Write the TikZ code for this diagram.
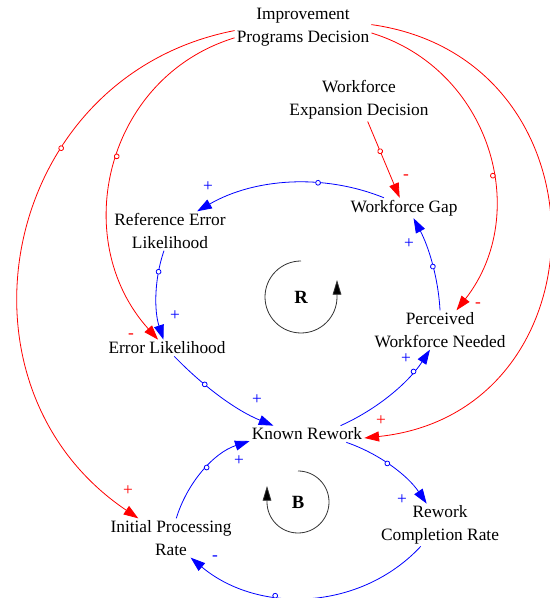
\documentclass[tikz,border=0pt]{standalone}
\usepackage{fontspec}
\setmainfont{Liberation Serif}
\usetikzlibrary{arrows.meta,decorations.markings}
\tikzset{
  var/.style={align=center,inner sep=1.5pt,font=\fontsize{13}{16.9}\selectfont},
  sign/.style={inner sep=0pt,font=\fontsize{13}{16.9}\selectfont},
  link/.style={line width=0.6pt,-{Triangle[length=11pt,width=7.5pt]}},
  valve/.style={postaction={decorate,decoration={markings,
    mark=at position #1 with {\draw[fill=white] (0,0) circle (1.8pt);}}}},
  loopsym/.style={black!80,line width=0.6pt,-{Triangle[length=11pt,width=6.5pt,fill=black]}},
}
\begin{document}
\begin{tikzpicture}[x=0.75pt,y=0.75pt]
\useasboundingbox (0,0) rectangle (549,598);
\node[var] (ipd) at (303,571) {Improvement\\Programs Decision};
\node[var] (wed) at (359,498) {Workforce\\Expansion Decision};
\node[var] (wg) at (404,390) {Workforce Gap};
\node[var] (rel) at (170,367) {Reference Error\\Likelihood};
\node[var] (el) at (167,250) {Error Likelihood};
\node[var] (pwn) at (440,268) {Perceived\\Workforce Needed};
\node[var] (kr) at (307,164) {Known Rework};
\node[var] (ipr) at (171,60) {Initial Processing\\Rate};
\node[var] (rcr) at (440,73) {Rework\\Completion Rate};
\node[font=\fontsize{14}{16}\selectfont\bfseries] (rloop) at (301,301) {R};
\node[font=\fontsize{14}{16}\selectfont\bfseries] (bloop) at (298,96) {B};
\draw[loopsym] (rloop.center) ++(0,36) arc[start angle=90,end angle=360,radius=36] -- ++(0,17);
\draw[loopsym] (bloop.center) ++(0,31) arc[start angle=90,end angle=-180,radius=31] -- ++(0,16);
\draw[red,link,valve=0.34] (ipd.183) to[out=191,in=146,looseness=1.23] (ipr.149);
\draw[red,link,valve=0.47] (ipd.189) to[out=197,in=132,looseness=1.11] (el.137);
\draw[red,link] (ipd.2) to[out=352,in=6,looseness=1.51] (kr.356);
\draw[red,link,valve=0.58] (ipd.355) to[out=343,in=52,looseness=1.09] (pwn.50);
\draw[red,link,valve=0.39] (wed.292) -- (wg.113);
\draw[blue,link,valve=0.35] (wg.153) to[out=158,in=30,looseness=0.9] (rel.36);
\draw[blue,link,valve=0.24] (rel.253) to[out=251,in=108,looseness=0.87] (el.113);
\draw[blue,link,valve=0.34] (el.311) to[out=314,in=158,looseness=0.86] (kr.166);
\draw[blue,link,valve=0.77] (kr.14) to[out=24,in=237,looseness=0.86] (pwn.243);
\draw[blue,link,valve=0.46] (pwn.90) to[out=93,in=298,looseness=0.86] (wg.313);
\draw[blue,link,valve=0.45] (kr.348) to[out=341,in=124,looseness=0.87] (rcr.122);
\draw[blue,link,valve=0.63] (rcr.228) to[out=227,in=320,looseness=0.98] (ipr.315);
\draw[blue,link,valve=0.54] (ipr.75) to[out=73,in=198,looseness=0.9] (kr.187);
\node[sign,text=red] (sA) at (128,107) {+};
\node[sign,text=red] (sB) at (131,262) {-};
\node[sign,text=red] (sC) at (381,177) {+};
\node[sign,text=red] (sD) at (478,293) {-};
\node[sign,text=red] (sE) at (406,421) {-};
\node[sign,text=blue] (sF) at (208,411) {+};
\node[sign,text=blue] (sG) at (175,282) {+};
\node[sign,text=blue] (sH) at (257,198) {+};
\node[sign,text=blue] (sI) at (406,239) {+};
\node[sign,text=blue] (sJ) at (409,354) {+};
\node[sign,text=blue] (sK) at (402,98) {+};
\node[sign,text=blue] (sL) at (215,40) {-};
\node[sign,text=blue] (sM) at (239,137) {+};
\end{tikzpicture}
\end{document}
